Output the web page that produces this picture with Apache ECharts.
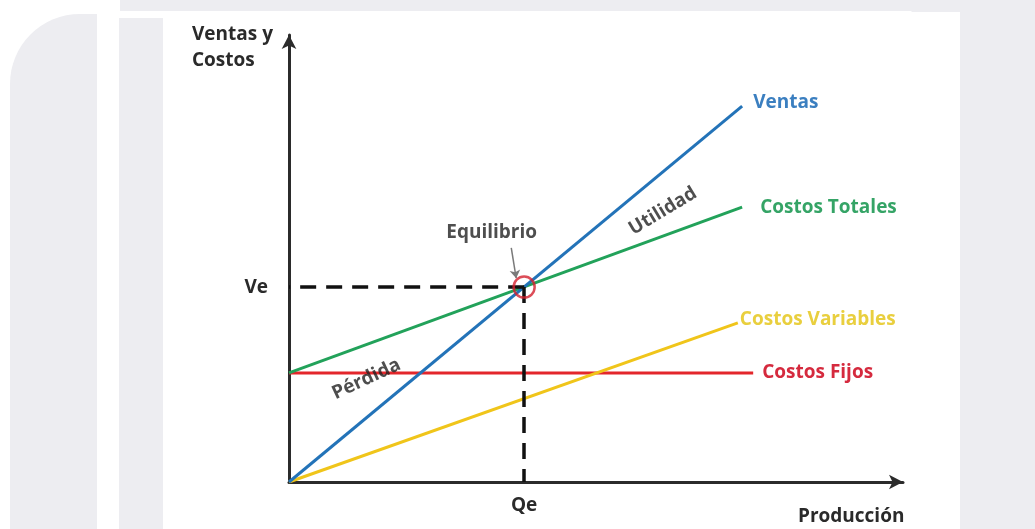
<!DOCTYPE html>
<html>
<head>
<meta charset="utf-8">
<script src="https://cdn.jsdelivr.net/npm/echarts@6/dist/echarts.min.js"></script>
<style>
  html, body { margin: 0; padding: 0; background: #ffffff; }
  #chart { width: 1035px; height: 529px; }
</style>
</head>
<body>
<div id="chart"></div>
<script>
// Break-even chart: sales vs. fixed, variable and total costs
const lineNames = ['Ventas', 'Costos Totales', 'Costos Variables', 'Costos Fijos'];
const ventas = [[0, 0], [73.8, 84.1]];
const costosTotales = [[0, 24.4], [73.8, 61.5]];
const costosVariables = [[0, 0], [73.1, 35.6]];
const costosFijos = [[0, 24.4], [75.6, 24.4]];
// break-even point: [Qe, Ve]
const equilibrio = [38.3, 43.6];
const axisTitles = ['Producción', 'Ventas y\nCostos'];
const pointNames = ['Qe', 'Ve'];
// [text, x, y, rotation in degrees]
const notes = [
  ['Equilibrio', 33.0, 55.9, 0],
  ['Utilidad', 60.9, 60.6, 31],
  ['Pérdida', 12.6, 23.0, 25]
];
// arrow from the "Equilibrio" note to the break-even point
const equilibrioArrow = [[36.2, 52.4], [37.0, 45.6]];

const FONT = '"Open Sans"';
const FSIZE = 19;
const lineColors = ['#2373b8', '#22a25a', '#f0c51a', '#e3262b'];
const labelColors = ['#3b7fc0', '#35a466', '#e9cf3e', '#d52a3e'];
const labelDist = [11, 18, 2, 9];
const labelDy = [-3, 0, -3, 0];

const chart = echarts.init(document.getElementById('chart'), null, { renderer: 'canvas' });

function lineSeries(i, data) {
  return {
    name: lineNames[i],
    type: 'line',
    data: data,
    symbol: 'none',
    silent: true,
    z: 3,
    lineStyle: { color: lineColors[i], width: 3 },
    endLabel: {
      show: true,
      formatter: lineNames[i],
      color: labelColors[i],
      fontFamily: FONT,
      fontWeight: 'bold',
      fontSize: FSIZE,
      distance: labelDist[i],
      offset: [0, labelDy[i]]
    }
  };
}

const axisCommon = {
  type: 'value',
  min: 0,
  max: 100,
  splitLine: { show: false },
  axisTick: { show: false },
  axisLabel: { show: false },
  axisLine: {
    show: true,
    symbol: ['none', 'arrow'],
    symbolSize: [11, 14],
    lineStyle: { color: '#2b2b2b', width: 3 }
  }
};

const bg = '#ededf1';

chart.setOption({
  animation: false,
  backgroundColor: '#ffffff',
  grid: { left: 289, right: 132, top: 35, bottom: 47 },
  xAxis: Object.assign({}, axisCommon),
  yAxis: Object.assign({}, axisCommon),
  graphic: [
    // page panels behind the chart card
    { type: 'rect', z: -10, shape: { x: 10, y: 14, width: 87, height: 530, r: [70, 0, 0, 0] }, style: { fill: bg } },
    { type: 'rect', z: -10, shape: { x: 119, y: 18, width: 44, height: 520 }, style: { fill: bg } },
    { type: 'rect', z: -10, shape: { x: 120, y: 0, width: 915, height: 11 }, style: { fill: bg } },
    { type: 'polygon', z: -10, shape: { points: [[900, 0], [1035, 0], [1035, 529], [960, 529], [960, 60]] }, style: { fill: bg } },
    { type: 'rect', z: -9, shape: { x: 163, y: 12, width: 797, height: 530 }, style: { fill: '#ffffff' } },
    // axis titles
    {
      type: 'text', left: 798, top: 504, z: 10,
      style: { text: axisTitles[0], fill: '#2a2a2a', font: 'bold ' + FSIZE + 'px ' + FONT, lineHeight: 26 }
    },
    {
      type: 'text', left: 192, top: 22, z: 10,
      style: { text: axisTitles[1], fill: '#2a2a2a', font: 'bold ' + FSIZE + 'px ' + FONT, lineHeight: 26 }
    }
  ],
  series: [
    lineSeries(3, costosFijos),
    lineSeries(2, costosVariables),
    lineSeries(1, costosTotales),
    lineSeries(0, ventas),
    {
      // dashed guides to the axes at Qe and Ve
      type: 'line',
      data: [],
      silent: true,
      markLine: {
        silent: true,
        symbol: ['none', 'none'],
        lineStyle: { color: '#111111', type: [16, 10], width: 3.5 },
        label: {
          show: true,
          position: 'end',
          color: '#2a2a2a',
          fontFamily: FONT,
          fontWeight: 'bold',
          fontSize: FSIZE
        },
        data: [
          [
            { coord: [equilibrio[0], equilibrio[1]] },
            { coord: [equilibrio[0], 0], label: { formatter: pointNames[0], distance: 14 } }
          ],
          [
            { coord: [equilibrio[0], equilibrio[1]] },
            { coord: [0, equilibrio[1]], label: { formatter: pointNames[1], distance: 21 } }
          ]
        ]
      }
    },
    {
      // pointer from the note to the break-even point
      type: 'line',
      data: [],
      silent: true,
      z: 6,
      markLine: {
        silent: true,
        symbol: ['none', 'arrow'],
        symbolSize: 8,
        label: { show: false },
        lineStyle: { color: '#7a7a7a', type: 'solid', width: 1.5 },
        data: [[{ coord: equilibrioArrow[0] }, { coord: equilibrioArrow[1] }]]
      }
    },
    {
      // break-even marker
      type: 'scatter',
      silent: true,
      z: 7,
      data: [equilibrio],
      symbol: 'circle',
      symbolSize: 21,
      itemStyle: { color: 'rgba(0,0,0,0)', borderColor: '#d3202e', borderWidth: 2.5 }
    },
    {
      // text notes on the plot
      type: 'scatter',
      silent: true,
      z: 8,
      symbolSize: 0,
      data: notes.map(n => ({ value: [n[1], n[2]], name: n[0], label: { rotate: n[3] } })),
      label: {
        show: true,
        position: 'inside',
        formatter: p => p.name,
        color: '#222222',
        fontFamily: FONT,
        fontWeight: 'bold',
        fontSize: FSIZE
      }
    }
  ]
});
</script>
</body>
</html>
